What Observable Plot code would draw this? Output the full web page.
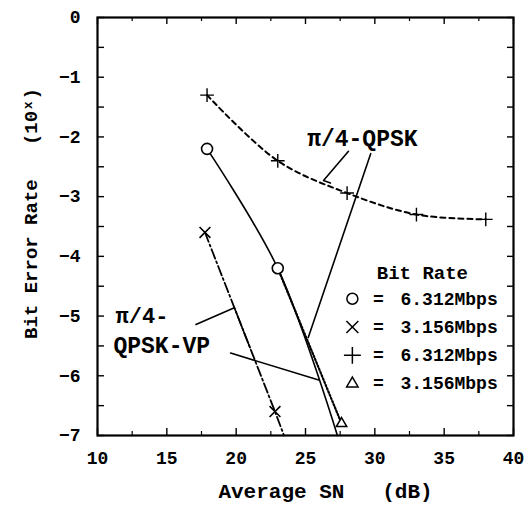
<!DOCTYPE html>
<html>
<head>
<meta charset="utf-8">
<script src="https://cdn.jsdelivr.net/npm/d3@7"></script>
<script src="https://cdn.jsdelivr.net/npm/@observablehq/plot@0.6"></script>
<style>
  html, body { margin: 0; padding: 0; background: white; }
</style>
</head>
<body>
<div id="chart"></div>
<script>
// ---- data ----
// + : 6.312 Mbps, pi/4-QPSK (dashed)
const plusSN  = [17.9, 23, 28, 33, 38];
const plusBER = [-1.3, -2.4, -2.94, -3.3, -3.38];
// o : 6.312 Mbps, pi/4-QPSK-VP (solid); last value is where the curve leaves the frame
const circleSN  = [17.9, 23, 27.3];
const circleBER = [-2.2, -4.2, -7.0];
// x : 3.156 Mbps, pi/4-QPSK-VP (dash-dot)
const crossSN  = [17.75, 22.8, 23.45];
const crossBER = [-3.6, -6.6, -7.0];
// triangle : 3.156 Mbps (dotted)
const triSN  = [23, 27.6];
const triBER = [-4.2, -6.8];

const xTickLabels = [10, 15, 20, 25, 30, 35, 40];
const xMinorTicks = [12.5, 17.5, 22.5, 27.5, 32.5, 37.5];
const yTickLabels = [0, -1, -2, -3, -4, -5, -6, -7];
const yHalfTicks  = [-0.5, -1.5, -2.5, -3.5, -4.5, -5.5, -6.5];

const legendTitle   = "Bit Rate";
const legendSymbols = ["circle", "times", "plus", "triangle2"];
const legendLabels  = ["6.312Mbps", "3.156Mbps", "6.312Mbps", "3.156Mbps"];

const pts = (xs, ys) => xs.map((x, i) => ({x, y: ys[i]}));

const W = 524, H = 505, mL = 97, mR = 11, mT = 17, mB = 70;
const innerW = W - mL - mR, innerH = H - mT - mB;

// annotation geometry (data coordinates)
const leaders = [
  {id: "q1", pts: [[28.1, -2.24], [26.3, -2.73], [26.8, -2.77]]},
  {id: "q2", pts: [[29.7, -2.28], [25.2, -5.36]]},
  {id: "v1", pts: [[17.1, -5.14], [19.87, -4.86], [21.0, -5.53]]},
  {id: "v2", pts: [[19.6, -5.62], [25.95, -6.07]]}
].flatMap(l => l.pts.map(([x, y]) => ({id: l.id, x, y})));

const legendRows = legendLabels.map((t, i) => ({
  symbol: legendSymbols[i], label: t, y: -4.71 - i * 0.474
}));

const chart = Plot.plot({
  width: W, height: H,
  marginLeft: mL, marginRight: mR, marginTop: mT, marginBottom: mB,
  x: {domain: [10, 40]},
  y: {domain: [-7, 0]},
  style: {fontFamily: "'Liberation Mono', 'DejaVu Sans Mono', monospace", fontWeight: "bold", fontSize: "17px", color: "black", background: "white"},
  marks: [
    // inward ticks
    Plot.tickX(xTickLabels, {x: d => d, insetTop: innerH - 7, strokeWidth: 1.4}),
    Plot.tickX(xMinorTicks, {x: d => d, insetTop: innerH - 4, strokeWidth: 1.2}),
    Plot.tickX(xTickLabels, {x: d => d, insetBottom: innerH - 7, strokeWidth: 1.4}),
    Plot.tickX(xMinorTicks, {x: d => d, insetBottom: innerH - 4, strokeWidth: 1.2}),
    Plot.tickY(yTickLabels.concat(yHalfTicks), {y: d => d, insetRight: innerW - 7, strokeWidth: 1.4}),
    Plot.tickY(yTickLabels.concat(yHalfTicks), {y: d => d, insetLeft: innerW - 6, strokeWidth: 1.4}),
    Plot.frame({strokeWidth: 2.2}),
    Plot.axisX({ticks: xTickLabels, tickSize: 0, tickPadding: 16, label: null, fontSize: 18, tickFormat: "d"}),
    Plot.axisY({ticks: yTickLabels, tickSize: 0, tickPadding: 17, label: null, fontSize: 18, tickFormat: "d"}),
    // axis titles
    Plot.text(["Average SN   (dB)"], {frameAnchor: "bottom", textAnchor: "middle", lineAnchor: "middle", dx: 20, dy: 56, fontSize: 21}),
    Plot.text(["Bit Error Rate   (10\u02E3)"], {frameAnchor: "left", textAnchor: "middle", lineAnchor: "middle", rotate: -90, dx: -67, dy: -13, fontSize: 19}),
    // curves
    Plot.line(pts(plusSN, plusBER), {x: "x", y: "y", curve: "catmull-rom", strokeWidth: 2, strokeDasharray: "5,4"}),
    Plot.line(pts(circleSN, circleBER), {x: "x", y: "y", curve: "catmull-rom", strokeWidth: 1.6}),
    Plot.line(pts(crossSN, crossBER), {x: "x", y: "y", strokeWidth: 1.8, strokeDasharray: "10,3,2,3"}),
    Plot.line(pts(triSN, triBER), {x: "x", y: "y", strokeWidth: 2.2, strokeDasharray: "1.5,2"}),
    // leader lines
    Plot.line(leaders, {x: "x", y: "y", z: "id", strokeWidth: 1.6}),
    // markers
    Plot.dot(pts(plusSN, plusBER), {x: "x", y: "y", symbol: "plus", r: 4.5, stroke: "black", strokeWidth: 1.4}),
    Plot.dot(pts(circleSN, circleBER).slice(0, 2), {x: "x", y: "y", symbol: "circle", r: 5.5, stroke: "black", fill: "white", strokeWidth: 1.6}),
    Plot.dot(pts(crossSN, crossBER).slice(0, 2), {x: "x", y: "y", symbol: "times", r: 5, stroke: "black", strokeWidth: 1.6}),
    Plot.dot(pts(triSN, triBER).slice(1), {x: "x", y: "y", symbol: "triangle2", r: 5, stroke: "black", fill: "white", strokeWidth: 1.5}),
    // annotations
    Plot.text(["\u03C0/4-QPSK"], {x: 29.1, y: -2.03, fontSize: 23}),
    Plot.text(["\u03C0/4-"], {x: 11.3, y: -5.0, textAnchor: "start", fontSize: 22}),
    Plot.text(["QPSK-VP"], {x: 11.15, y: -5.49, textAnchor: "start", fontSize: 23}),
    // legend
    Plot.text([legendTitle], {x: 33.43, y: -4.27, fontSize: 19}),
    Plot.dot(legendRows, {x: 28.38, y: "y", symbol: "symbol", r: 5.5, stroke: "black", strokeWidth: 1.5}),
    Plot.text(legendRows, {x: 30.26, y: "y", text: () => "=", fontSize: 18}),
    Plot.text(legendRows, {x: 31.85, y: "y", text: "label", textAnchor: "start", fontSize: 18})
  ]
});
document.getElementById("chart").appendChild(chart);
</script>
</body>
</html>
